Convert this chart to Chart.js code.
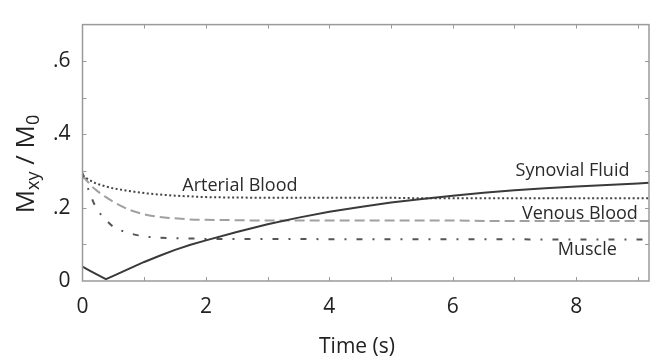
<!DOCTYPE html>
<html><head><meta charset="utf-8">
<script src="https://cdn.jsdelivr.net/npm/chart.js@4/dist/chart.umd.min.js"></script>
<style>html,body{margin:0;padding:0;background:#fff}#wrap{width:662px;height:364px}</style>
</head><body><div id="wrap"><canvas id="c" width="662" height="364"></canvas></div>
<script>
// Time (s)
const times = [0, 0.1, 0.2, 0.3, 0.38, 0.5, 0.75, 1, 1.25, 1.5, 1.75, 2, 2.5, 3, 3.5, 4, 4.5, 5, 5.5, 6, 6.5, 7, 7.5, 8, 8.5, 9, 9.18];
// Mxy / M0
const synovialFluid = [0.039, 0.030, 0.021, 0.012, 0.005, 0.014, 0.033, 0.052, 0.069, 0.085, 0.099, 0.111, 0.134, 0.155, 0.173, 0.189, 0.202, 0.214, 0.224, 0.233, 0.241, 0.248, 0.253, 0.258, 0.262, 0.266, 0.268];
const arterialBlood = [0.288, 0.277, 0.268, 0.262, 0.258, 0.253, 0.246, 0.240, 0.236, 0.233, 0.231, 0.229, 0.228, 0.227, 0.227, 0.227, 0.227, 0.227, 0.226, 0.226, 0.226, 0.226, 0.226, 0.226, 0.226, 0.226, 0.226];
const venousBlood = [0.288, 0.268, 0.251, 0.238, 0.229, 0.216, 0.195, 0.182, 0.175, 0.171, 0.168, 0.167, 0.166, 0.165, 0.165, 0.165, 0.165, 0.165, 0.165, 0.165, 0.164, 0.164, 0.164, 0.164, 0.164, 0.164, 0.164];
const muscle = [0.295, 0.248, 0.207, 0.181, 0.167, 0.148, 0.131, 0.122, 0.118, 0.117, 0.116, 0.115, 0.115, 0.115, 0.115, 0.114, 0.114, 0.114, 0.114, 0.114, 0.114, 0.114, 0.113, 0.113, 0.113, 0.113, 0.113];

const seriesNames = ['Synovial Fluid', 'Arterial Blood', 'Venous Blood', 'Muscle'];
const xTickValues = [0, 2, 4, 6, 8];
const yTickValues = [0, 0.2, 0.4, 0.6];
const yTickLabels = ['0', '.2', '.4', '.6'];
const xTitle = 'Time (s)';

const FONT = '"Open Sans", "DejaVu Sans", sans-serif';
const pts = arr => times.map((t, i) => ({x: t, y: arr[i]}));

const labelPos = [
  {x: 7.94, y: 0.301},
  {x: 2.55, y: 0.260},
  {x: 8.06, y: 0.184},
  {x: 8.18, y: 0.084}
];

const decor = {
  id: 'decor',
  afterDraw(chart) {
    const ctx = chart.ctx, a = chart.chartArea, xs = chart.scales.x, ys = chart.scales.y;
    ctx.save();
    // box
    ctx.strokeStyle = '#9a9a9a';
    ctx.lineWidth = 1.5;
    ctx.strokeRect(a.left, a.top, a.right - a.left, a.bottom - a.top);
    // inner ticks
    ctx.lineWidth = 1;
    ctx.beginPath();
    for (let v = 1; v <= 9; v++) {
      const px = Math.round(xs.getPixelForValue(v)) + 0.5;
      ctx.moveTo(px, a.bottom); ctx.lineTo(px, a.bottom - 4);
      ctx.moveTo(px, a.top); ctx.lineTo(px, a.top + 4);
    }
    for (let k = 1; k <= 6; k++) {
      const py = Math.round(ys.getPixelForValue(k / 10)) + 0.5;
      ctx.moveTo(a.left, py); ctx.lineTo(a.left + 4, py);
      ctx.moveTo(a.right, py); ctx.lineTo(a.right - 4, py);
    }
    ctx.stroke();
    // series labels
    ctx.fillStyle = '#2a2a2a';
    ctx.font = '18px ' + FONT;
    ctx.textAlign = 'center';
    ctx.textBaseline = 'middle';
    seriesNames.forEach((n, i) => {
      ctx.fillText(n, xs.getPixelForValue(labelPos[i].x), ys.getPixelForValue(labelPos[i].y));
    });
    // x title
    ctx.font = '21px ' + FONT;
    ctx.fillStyle = '#222';
    ctx.textBaseline = 'alphabetic';
    ctx.fillText(xTitle, 357, 353);
    // y title M_xy / M_0
    const parts = [['M', 26, 0], ['xy', 18, 5], [' / M', 26, 0], ['0', 18, 5]];
    let total = 0;
    parts.forEach(p => { ctx.font = p[1] + 'px ' + FONT; total += ctx.measureText(p[0]).width; });
    ctx.translate(34, 164);
    ctx.rotate(-Math.PI / 2);
    ctx.textAlign = 'left';
    let x = -total / 2;
    parts.forEach(p => {
      ctx.font = p[1] + 'px ' + FONT;
      ctx.fillText(p[0], x, p[2]);
      x += ctx.measureText(p[0]).width;
    });
    ctx.restore();
  }
};

new Chart(document.getElementById('c'), {
  type: 'line',
  data: {
    datasets: [
      {label: seriesNames[0], data: pts(synovialFluid), borderColor: '#3a3a3a', borderWidth: 2, tension: 0, pointRadius: 0},
      {label: seriesNames[1], data: pts(arterialBlood), borderColor: '#444', borderWidth: 2, borderDash: [2, 2.5], cubicInterpolationMode: 'monotone', pointRadius: 0},
      {label: seriesNames[2], data: pts(venousBlood), borderColor: '#a0a0a0', borderWidth: 2, borderDash: [10, 5], cubicInterpolationMode: 'monotone', pointRadius: 0},
      {label: seriesNames[3], data: pts(muscle), borderColor: '#555', borderWidth: 2, borderDash: [6, 10, 2, 10], cubicInterpolationMode: 'monotone', pointRadius: 0}
    ]
  },
  options: {
    responsive: false,
    animation: false,
    devicePixelRatio: 1,
    layout: {padding: {left: 0, right: 6.5, top: 7, bottom: 0}},
    plugins: {legend: {display: false}, tooltip: {enabled: false}},
    scales: {
      x: {
        type: 'linear', min: 0, max: 9.18,
        grid: {display: false, drawTicks: false}, border: {display: false},
        ticks: {
          stepSize: 1, autoSkip: false, maxRotation: 0, padding: 13,
          color: '#222', font: {family: FONT, size: 21},
          callback: v => xTickValues.includes(v) ? String(v) : ''
        },
        afterFit: s => { s.height = 83; }
      },
      y: {
        type: 'linear', min: 0, max: 0.7,
        grid: {display: false, drawTicks: false}, border: {display: false},
        ticks: {
          stepSize: 0.1, autoSkip: false, padding: 12,
          color: '#222', font: {family: FONT, size: 21},
          callback: v => {
            const k = yTickValues.findIndex(t => Math.abs(t - v) < 1e-6);
            return k >= 0 ? yTickLabels[k] : '';
          }
        },
        afterFit: s => { s.width = 82.5; }
      }
    }
  },
  plugins: [decor]
});
</script></body></html>
